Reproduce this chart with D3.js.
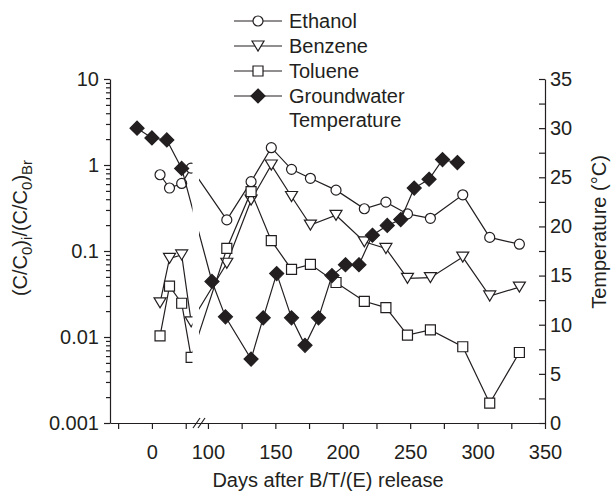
<!DOCTYPE html>
<html>
<head>
<meta charset="utf-8">
<script src="https://cdn.jsdelivr.net/npm/d3@7"></script>
<style>
body { margin: 0; background: #fff; }
text { font-family: "Liberation Sans", Arial, sans-serif; fill: #231f20; }
</style>
</head>
<body>
<script>
// sampling days (first four are before the axis break)
var days = [6, 13, 22, 29, 114, 132, 147, 162, 176, 195, 216, 232, 248, 265, 289, 309, 331];
var ethanol = [0.77, 0.54, 0.61, 0.92, 0.23, 0.64, 1.59, 0.89, 0.70, 0.51, 0.31, 0.37, 0.27, 0.24, 0.45, 0.144, 0.12];
var benzene = [0.025, 0.082, 0.090, 0.015, 0.072, 0.39, 1.0, 0.43, 0.20, 0.26, 0.128, 0.107, 0.048, 0.049, 0.085, 0.030, 0.038];
var toluene = [0.0103, 0.039, 0.0247, 0.0058, 0.107, 0.49, 0.132, 0.061, 0.070, 0.043, 0.026, 0.022, 0.0105, 0.0121, 0.0077, 0.0017, 0.0066];

// groundwater temperature (deg C), right axis
var tempDays = [-11, 0, 11, 22, 103, 113, 132, 141, 151, 162, 172, 182, 192, 202, 212, 222, 233, 243, 253, 264, 274, 285];
var temperature = [30.0, 29.0, 28.8, 25.9, 14.4, 10.8, 6.5, 10.7, 15.2, 10.7, 7.9, 10.7, 15.0, 16.1, 16.1, 19.1, 20.1, 20.7, 23.9, 24.8, 26.8, 26.5];

var xTicks = [-25, 0, 25, 100, 125, 150, 175, 200, 225, 250, 275, 300, 325, 350];
var xLabels = [0, 100, 150, 200, 250, 300, 350];
var yTicks = [0.001, 0.01, 0.1, 1, 10];
var tTicks = [0, 2.5, 5, 7.5, 10, 12.5, 15, 17.5, 20, 22.5, 25, 27.5, 30, 32.5, 35];

const W = 615, H = 492;
const pL = 110, pR = 545, pT = 79, pB = 423;
const ink = "#231f20";

const svg = d3.select("body")
    .append("svg")
    .attr("width", W)
    .attr("height", H);

// broken x axis: one scale, two pieces
var x = d3.scaleLinear().domain([-31, 30, 93, 350]).range([pL, 192.5, 198.5, pR]);
var y = d3.scaleLog().domain([0.001, 10]).range([pB, pT]);
var yT = d3.scaleLinear().domain([0, 35]).range([pB, pT]);

// marker shapes
var shapes = {
    circle: "M5,0A5,5 0 1,1 -5,0A5,5 0 1,1 5,0Z",
    tri: "M-6,-5L6,-5L0,5Z",
    square: "M-5,-5H5V5H-5Z",
    diamond: "M0,-7L7,0L0,7L-7,0Z"
};

var series = [
    { name: "Ethanol", vals: ethanol, xs: days, shape: "circle", fill: "#fff", sc: y },
    { name: "Benzene", vals: benzene, xs: days, shape: "tri", fill: "#fff", sc: y },
    { name: "Toluene", vals: toluene, xs: days, shape: "square", fill: "#fff", sc: y },
    { name: "Groundwater", vals: temperature, xs: tempDays, shape: "diamond", fill: ink, sc: yT }
];

var plot = svg.append("g");

series.forEach(function(s) {
    var pts = s.vals.map(function(v, i) { return [s.xs[i], v]; });
    var line = d3.line()
        .x(d => x(d[0]))
        .y(d => s.sc(d[1]));
    plot.append("path")
        .attr("d", line(pts))
        .attr("fill", "none")
        .attr("stroke", ink)
        .attr("stroke-width", 1.2);
    plot.selectAll(null)
        .data(pts)
        .enter()
        .append("path")
        .attr("d", shapes[s.shape])
        .attr("transform", d => "translate(" + x(d[0]) + "," + s.sc(d[1]) + ")")
        .attr("fill", s.fill)
        .attr("stroke", ink)
        .attr("stroke-width", 1.2);
});

// white band at the axis break
svg.append("rect")
    .attr("x", 192.5).attr("y", pT - 10)
    .attr("width", 6.5).attr("height", pB - pT + 9)
    .attr("fill", "#fff");

function styleAxis(g) {
    g.selectAll("path, line").attr("stroke", ink).attr("stroke-width", 1.2);
    g.selectAll("text").attr("font-size", 20).attr("font-family", null).style("fill", ink);
}

// bottom axis
svg.append("g")
    .attr("transform", "translate(0," + pB + ")")
    .call(d3.axisBottom(x).tickValues(xTicks).tickSize(6).tickSizeOuter(0).tickPadding(16)
        .tickFormat(d => xLabels.includes(d) ? d : ""))
    .call(styleAxis);

// axis break marks
svg.append("g").selectAll("line")
    .data([193, 198])
    .enter()
    .append("line")
    .attr("x1", d => d).attr("y1", pB + 5)
    .attr("x2", d => d + 7).attr("y2", pB - 5)
    .attr("stroke", ink).attr("stroke-width", 1.2);

// left log axis
svg.append("g")
    .attr("transform", "translate(" + pL + ",0)")
    .call(d3.axisLeft(y).tickValues(yTicks).tickSize(6).tickSizeOuter(0).tickPadding(5)
        .tickFormat(d => d >= 1 ? String(d) : d3.format("")(d)))
    .call(styleAxis);

var minors = [];
yTicks.slice(0, 4).forEach(function(d) {
    for (var k = 2; k < 10; k++) minors.push(d * k);
});
svg.append("g")
    .attr("transform", "translate(" + pL + ",0)")
    .call(d3.axisLeft(y).tickValues(minors).tickSize(4).tickFormat(""))
    .call(g => g.select(".domain").remove())
    .call(styleAxis);

// right temperature axis
svg.append("g")
    .attr("transform", "translate(" + pR + ",0)")
    .call(d3.axisRight(yT).tickValues(tTicks).tickSizeInner(-6).tickSizeOuter(0).tickPadding(5)
        .tickFormat(d => d % 5 === 0 ? d : ""))
    .call(styleAxis);

// axis titles
svg.append("text")
    .attr("x", 328).attr("y", 487)
    .attr("text-anchor", "middle")
    .attr("font-size", 20)
    .text("Days after B/T/(E) release");

var yTitle = svg.append("text")
    .attr("transform", "translate(27,228) rotate(-90)")
    .attr("text-anchor", "middle")
    .attr("font-size", 20);
var parts = [["(C/C", 0], ["0", 1], [")", 0], ["i", 1], ["/(C/C", 0], ["0", 1], [")", 0], ["Br", 1]];
var shift = 0;
parts.forEach(function(p) {
    var t = yTitle.append("tspan").text(p[0]);
    if (p[1]) {
        t.attr("font-size", 15).attr("dy", 5 - shift);
        shift = 5;
    } else {
        t.attr("dy", -shift);
        shift = 0;
    }
});

svg.append("text")
    .attr("transform", "translate(606,232) rotate(-90)")
    .attr("text-anchor", "middle")
    .attr("font-size", 20)
    .text("Temperature (\u00B0C)");

// legend
var legend = svg.append("g");
series.forEach(function(s, i) {
    var cy = 21 + i * 25;
    legend.append("line")
        .attr("x1", 234).attr("x2", 282)
        .attr("y1", cy).attr("y2", cy)
        .attr("stroke", ink).attr("stroke-width", 1.2);
    legend.append("path")
        .attr("d", shapes[s.shape])
        .attr("transform", "translate(258," + cy + ")")
        .attr("fill", s.fill)
        .attr("stroke", ink)
        .attr("stroke-width", 1.2);
    legend.append("text")
        .attr("x", 289).attr("y", cy + 7)
        .attr("font-size", 20)
        .text(s.name);
});
legend.append("text")
    .attr("x", 289).attr("y", 21 + 4 * 25 + 6)
    .attr("font-size", 20)
    .text("Temperature");
</script>
</body>
</html>
